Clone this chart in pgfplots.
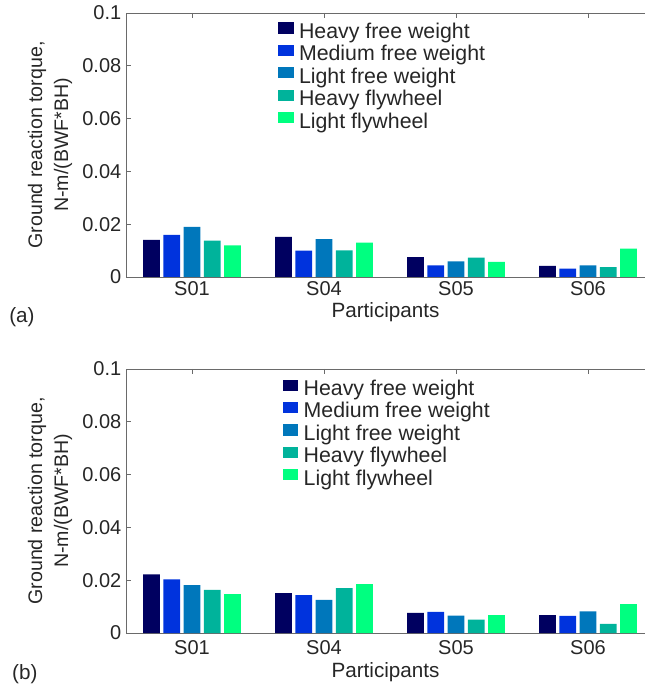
\documentclass[border=0pt]{standalone}
\usepackage{fontspec}
\setmainfont{Liberation Sans}
\usepackage{pgfplots}
\pgfplotsset{compat=1.18}
\definecolor{c1}{HTML}{000060}
\definecolor{c2}{HTML}{0033DD}
\definecolor{c3}{HTML}{0077BB}
\definecolor{c4}{HTML}{00B39B}
\definecolor{c5}{HTML}{00FF80}
\definecolor{txt}{HTML}{262626}
\definecolor{axc}{HTML}{6A6A6A}
\pgfplotsset{
  sw/.style={fill=#1, draw=none,
    legend image code/.code={\fill[##1] (0pt,-0.3pt) rectangle (11.5pt,8pt); \path (15.5pt,0pt);}},
  panel/.style={
    scale only axis, width=389.25pt, height=198pt,
    xmin=0.5, xmax=4.432, ymin=0, ymax=0.1,
    clip=false,
    ybar=2.7pt, bar width=12.5pt,
    axis x line=box, axis y line*=left,
    axis line style={axc, line width=0.6pt},
    tick style={axc, line width=0.6pt},
    tick align=inside, major tick length=3.75pt,
    xtick={1,2,3,4}, xticklabels={S01,S04,S05,S06},
    ytick={0,0.02,0.04,0.06,0.08,0.1},
    yticklabels={0,0.02,0.04,0.06,0.08,0.1},
    /pgf/number format/assume math mode=true,
    tick label style={font=\fontsize{15}{18}\selectfont, text=txt},
    ylabel={Ground reaction torque,\\N-m/(BWF*BH)},
    ylabel style={align=center, font=\fontsize{14.7}{19.5}\selectfont, text=txt,
      at={(axis description cs:-0.1464,0.5)}, anchor=center},
    xlabel={Participants},
    legend cell align=left,
    legend style={draw=none, fill=none, inner sep=0pt, row sep=1.2pt, column sep=0pt,
      font=\fontsize{16}{19}\selectfont, text=txt,
      nodes={inner sep=0pt, text height=11.6pt, text depth=3.7pt}},
  }
}
\begin{document}
\begin{tikzpicture}
\path[use as bounding box] (0,0) rectangle (483.75pt,513.75pt);
% panel (a)
\begin{axis}[panel, at={(94.5pt,306pt)}, anchor=south west,
  xlabel style={font=\fontsize{15.5}{18}\selectfont, text=txt, at={(axis description cs:0.5,-0.153)}, anchor=base},
  legend style={at={(axis description cs:0.293,0.965)}, anchor=north west}]
\addplot[sw=c1] coordinates {(1,0.0141) (2,0.0152) (3,0.0075) (4,0.0042)};
\addplot[sw=c2] coordinates {(1,0.0160) (2,0.0100) (3,0.0044) (4,0.0032)};
\addplot[sw=c3] coordinates {(1,0.0190) (2,0.0143) (3,0.0059) (4,0.0044)};
\addplot[sw=c4] coordinates {(1,0.0138) (2,0.0101) (3,0.0073) (4,0.0037)};
\addplot[sw=c5] coordinates {(1,0.0120) (2,0.0130) (3,0.0057) (4,0.0107)};
\legend{Heavy free weight, Medium free weight, Light free weight, Heavy flywheel, Light flywheel}
\node[anchor=base west, font=\fontsize{15.5}{18}\selectfont, text=txt, inner sep=0pt] at (axis description cs:-0.2254,-0.174) {(a)};
\end{axis}
% panel (b)
\begin{axis}[panel, at={(94.5pt,39pt)}, anchor=south west,
  xticklabel style={yshift=-2pt},
  xlabel style={font=\fontsize{15.5}{18}\selectfont, text=txt, at={(axis description cs:0.5,-0.167)}, anchor=base},
  legend style={at={(axis description cs:0.302,0.961)}, anchor=north west}]
\addplot[sw=c1] coordinates {(1,0.0222) (2,0.0151) (3,0.0076) (4,0.0068)};
\addplot[sw=c2] coordinates {(1,0.0203) (2,0.0143) (3,0.0080) (4,0.0065)};
\addplot[sw=c3] coordinates {(1,0.0181) (2,0.0125) (3,0.0066) (4,0.0082)};
\addplot[sw=c4] coordinates {(1,0.0163) (2,0.0170) (3,0.0051) (4,0.0035)};
\addplot[sw=c5] coordinates {(1,0.0147) (2,0.0185) (3,0.0068) (4,0.0109)};
\legend{Heavy free weight, Medium free weight, Light free weight, Heavy flywheel, Light flywheel}
\node[anchor=base west, font=\fontsize{15.5}{18}\selectfont, text=txt, inner sep=0pt] at (axis description cs:-0.2197,-0.178) {(b)};
\end{axis}
\end{tikzpicture}
\end{document}
